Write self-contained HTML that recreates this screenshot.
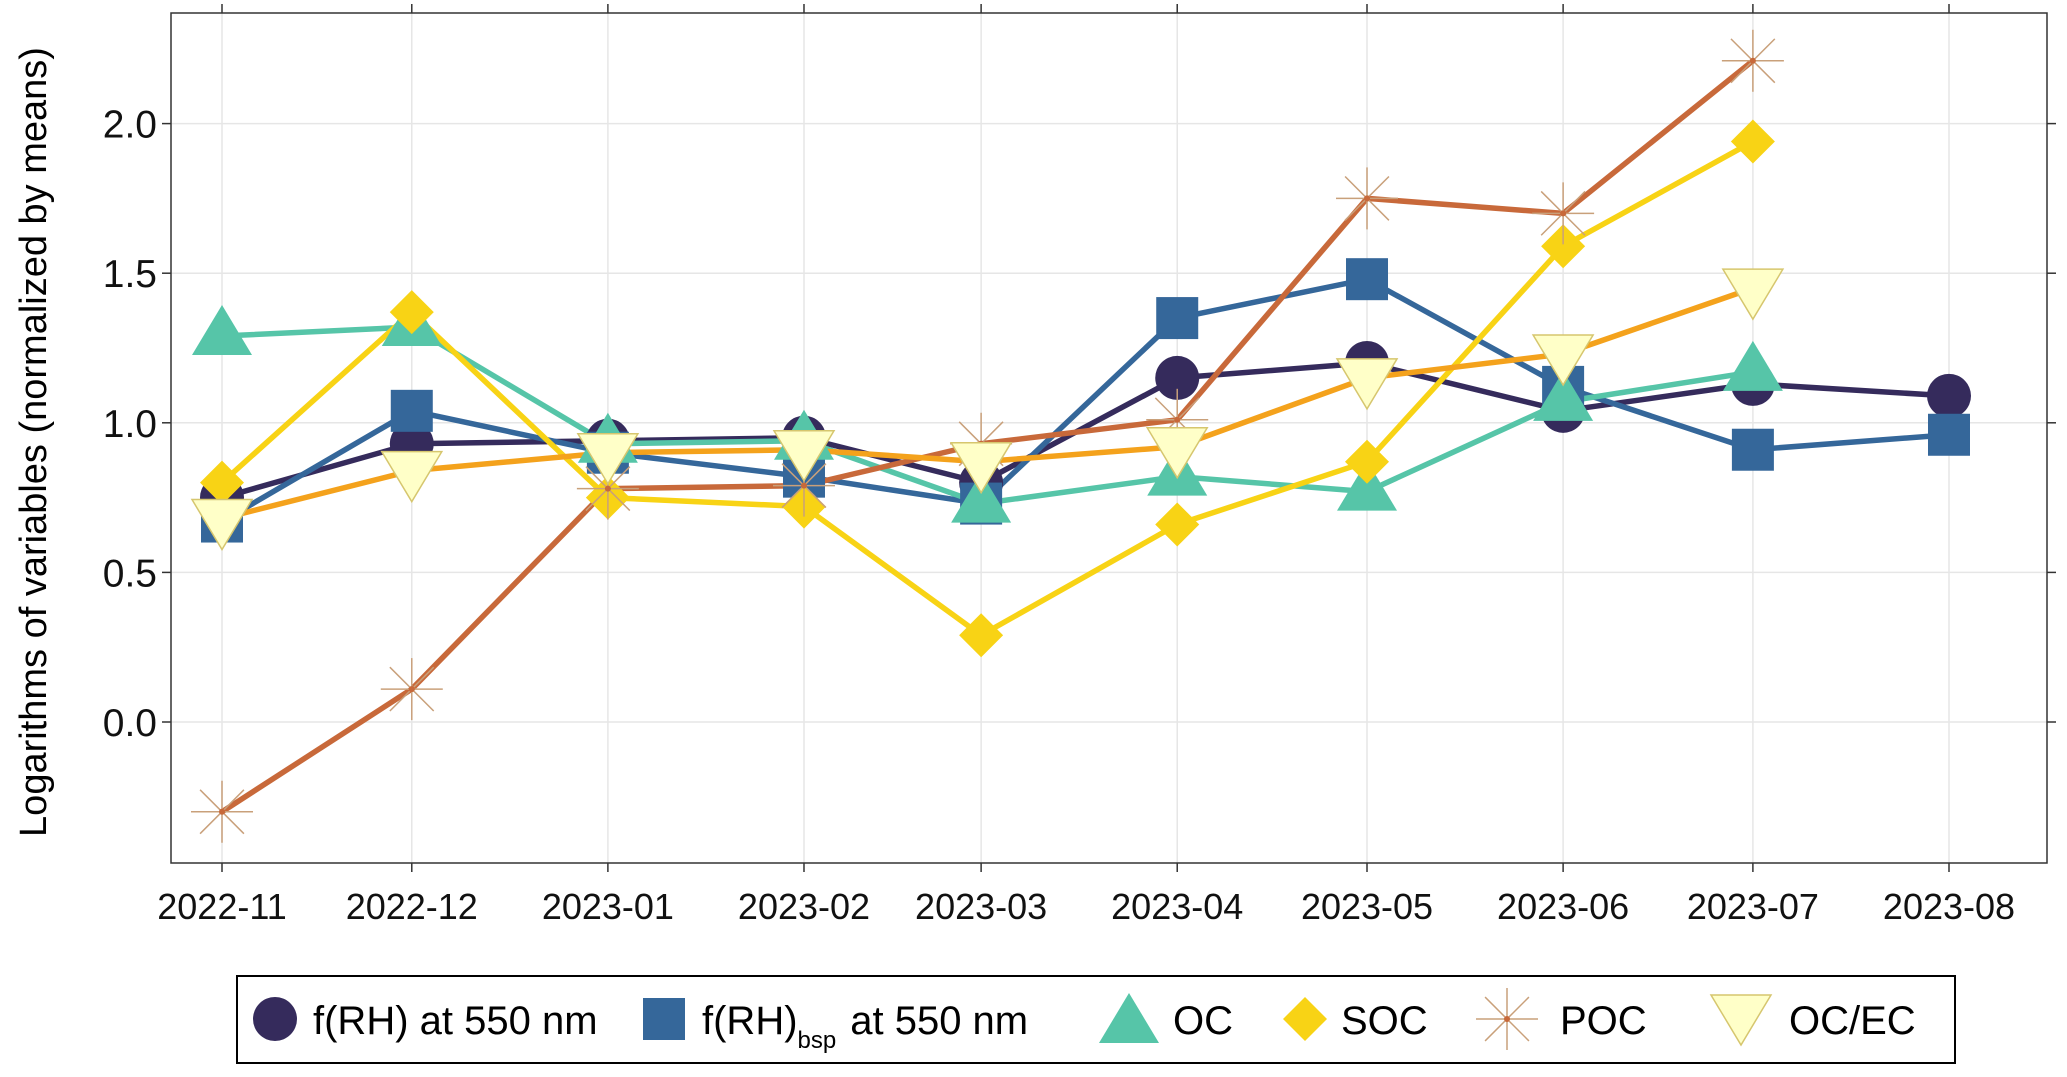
<!DOCTYPE html>
<html><head><meta charset="utf-8">
<style>
html,body{margin:0;padding:0;background:#fff;}
svg{display:block;font-family:"Liberation Sans",Arial,sans-serif;}
</style></head>
<body>
<svg id="chart" width="2067" height="1077" viewBox="0 0 2067 1077" xmlns="http://www.w3.org/2000/svg">
<rect x="0" y="0" width="2067" height="1077" fill="#fff"/>
<g id="grid"></g>
<g id="lines"></g>
<g id="marks"></g>
<g id="axes"></g>
<text transform="translate(46,442) rotate(-90)" text-anchor="middle" font-size="38" fill="#000">Logarithms of variables (normalized by means)</text>
<g id="legend">
<rect x="237" y="976" width="1718" height="87" fill="#fff" stroke="#000" stroke-width="2"/>
</g>
</svg>
<script>
const months = ["2022-11","2022-12","2023-01","2023-02","2023-03","2023-04","2023-05","2023-06","2023-07","2023-08"];
const yTicks = [0.0,0.5,1.0,1.5,2.0];
const fRH = [0.75,0.93,0.94,0.95,0.80,1.15,1.20,1.04,1.13,1.09];
const fRHbsp = [0.67,1.04,0.90,0.82,0.73,1.35,1.48,1.12,0.91,0.96];
const OC = [1.29,1.32,0.93,0.94,0.73,0.82,0.77,1.07,1.17];
const SOC = [0.80,1.37,0.75,0.72,0.29,0.66,0.87,1.59,1.94];
const POC = [-0.30,0.11,0.78,0.79,0.93,1.01,1.75,1.70,2.21];
const OCEC = [0.68,0.84,0.90,0.91,0.87,0.92,1.15,1.23,1.45];

const L=171,R=2047,T=13,B=863;
const d0=Date.UTC(2022,10,1);
function x(m){const p=m.split('-');const d=(Date.UTC(+p[0],+p[1]-1,1)-d0)/86400000;return 222+d*6.326;}
function y(v){return 722-299.2*v;}
const NS="http://www.w3.org/2000/svg";
function el(tag,attrs,parent){const e=document.createElementNS(NS,tag);for(const k in attrs)e.setAttribute(k,attrs[k]);parent.appendChild(e);return e;}
const grid=document.getElementById('grid'),lines=document.getElementById('lines'),marks=document.getElementById('marks'),axes=document.getElementById('axes'),legend=document.getElementById('legend');

months.forEach(m=>{const g=el('line',{x1:x(m),x2:x(m),y1:T,y2:B,stroke:'#e6e6e6','stroke-width':1.5},grid);

});
yTicks.forEach(v=>{const g=el('line',{x1:L,x2:R,y1:y(v),y2:y(v),stroke:'#e6e6e6','stroke-width':1.5},grid);

});

const frame=el('rect',{x:L,y:T,width:R-L,height:B-T,fill:'none',stroke:'#333','stroke-width':1.5},axes);


months.forEach(m=>{
 el('line',{x1:x(m),x2:x(m),y1:B,y2:B+9,stroke:'#333','stroke-width':1.5},axes);
 el('line',{x1:x(m),x2:x(m),y1:T,y2:T-9,stroke:'#333','stroke-width':1.5},axes);
 const t=el('text',{x:x(m),y:919,'text-anchor':'middle','font-size':36,fill:'#111'},axes);
 t.textContent=m;
 
 
});
yTicks.forEach(v=>{
 el('line',{x1:L,x2:L-9,y1:y(v),y2:y(v),stroke:'#333','stroke-width':1.5},axes);
 el('line',{x1:R,x2:R+9,y1:y(v),y2:y(v),stroke:'#333','stroke-width':1.5},axes);
 const t=el('text',{x:157,y:y(v)+14,'text-anchor':'end','font-size':39,fill:'#111'},axes);
 t.textContent=v.toFixed(1);
 
 
});

function marker(type,cx,cy,parent,s){
 s=s||1;let e;
 if(type==='circle') e=el('circle',{cx:cx,cy:cy,r:22*s,fill:'#352b5c'},parent);
 else if(type==='square') e=el('rect',{x:cx-21*s,y:cy-21*s,width:42*s,height:42*s,fill:'#35679a'},parent);
 else if(type==='tri') e=el('polygon',{points:`${cx},${cy-31*s} ${cx-30*s},${cy+19*s} ${cx+30*s},${cy+19*s}`,fill:'#56c5a8'},parent);
 else if(type==='diamond') e=el('polygon',{points:`${cx},${cy-22*s} ${cx+22*s},${cy} ${cx},${cy+22*s} ${cx-22*s},${cy}`,fill:'#f8d315'},parent);
 else if(type==='star'){e=el('g',{stroke:'#c9a07a','stroke-width':1.5},parent);const r=31*s;
  for(let a=0;a<4;a++){const an=a*Math.PI/4;el('line',{x1:cx-r*Math.cos(an),y1:cy-r*Math.sin(an),x2:cx+r*Math.cos(an),y2:cy+r*Math.sin(an)},e);}
  el('circle',{cx:cx,cy:cy,r:3,fill:'#c8693a',stroke:'none'},e);}
 else if(type==='dtri') e=el('polygon',{points:`${cx-30*s},${cy-19*s} ${cx+30*s},${cy-19*s} ${cx},${cy+31*s}`,fill:'#ffffc8',stroke:'#d6c66e','stroke-width':1.5},parent);
 return e;
}

const series=[
 {name:'frh',data:fRH,color:'#352b5c',m:'circle'},
 {name:'frh-bsp',data:fRHbsp,color:'#35679a',m:'square'},
 {name:'oc',data:OC,color:'#56c5a8',m:'tri'},
 {name:'soc',data:SOC,color:'#f8d315',m:'diamond'},
 {name:'poc',data:POC,color:'#c8693a',m:'star'},
 {name:'ocec',data:OCEC,color:'#f4a21c',m:'dtri'}
];
series.forEach(s=>{
 const pts=s.data.map((v,i)=>x(months[i])+','+y(v)).join(' ');
 const p=el('polyline',{points:pts,fill:'none',stroke:s.color,'stroke-width':5.5,'stroke-linejoin':'round'},lines);
 
 
});
series.forEach(s=>{
 s.data.forEach((v,i)=>{
  const mk=marker(s.m,x(months[i]),y(v),marks);
  
  
 });
});

const leg=[
 {m:'circle',cx:275,tx:313,label:'f(RH) at 550 nm'},
 {m:'square',cx:664,tx:702,label:'bsp'},
 {m:'tri',cx:1129,tx:1173,label:'OC'},
 {m:'diamond',cx:1305,tx:1341,label:'SOC'},
 {m:'star',cx:1507,tx:1560,label:'POC'},
 {m:'dtri',cx:1741,tx:1789,label:'OC/EC'}
];
leg.forEach(it=>{
 const g=el('g',{},legend);
 
 
 const cy=it.m==='tri'?1024:(it.m==='dtri'?1014:1019);
 marker(it.m,it.cx,cy,g,1.0);
 const t=el('text',{x:it.tx,y:1034,'font-size':40,fill:'#000'},g);
 if(it.label==='bsp'){
  t.textContent='f(RH)';
  const sub=el('tspan',{'font-size':24,dy:14},t);sub.textContent='bsp';
  const rest=el('tspan',{dy:-14,dx:14},t);rest.textContent='at 550 nm';
 } else t.textContent=it.label;
});
</script>
</body></html>
